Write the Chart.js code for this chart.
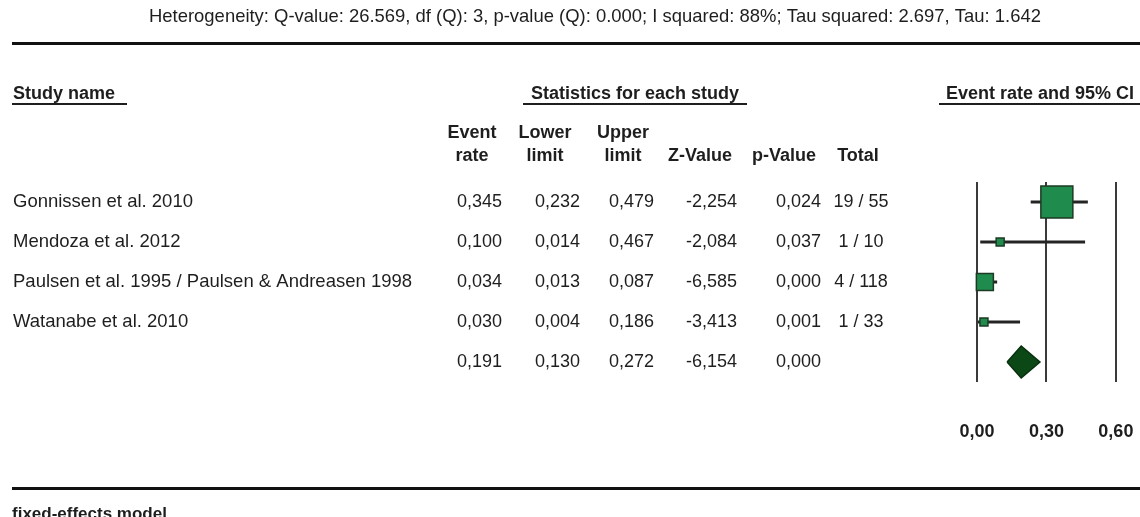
<!DOCTYPE html>
<html>
<head>
<meta charset="utf-8">
<title>Forest plot – event rate</title>
<script src="https://cdn.jsdelivr.net/npm/chart.js@4.4.1/dist/chart.umd.min.js"></script>
<style>
  html, body { margin: 0; padding: 0; background: #ffffff; }
  #wrap { width: 1140px; height: 517px; position: relative; overflow: hidden; }
  canvas { display: block; }
</style>
</head>
<body>
<div id="wrap"><canvas id="forest" width="1140" height="517"></canvas></div>
<script>
// ---- study data ----
const studies = [
  'Gonnissen et al. 2010',
  'Mendoza et al. 2012',
  'Paulsen et al. 1995 / Paulsen & Andreasen 1998',
  'Watanabe et al. 2010'
];
const eventRate  = [0.345, 0.100, 0.034, 0.030];
const lowerLimit = [0.232, 0.014, 0.013, 0.004];
const upperLimit = [0.479, 0.467, 0.087, 0.186];
const zValue     = [-2.254, -2.084, -6.585, -3.413];
const pValue     = [0.024, 0.037, 0.000, 0.001];
const events     = [19, 1, 4, 1];
const totals     = [55, 10, 118, 33];

// pooled estimate: event rate, lower limit, upper limit, Z, p
const pooledRate  = 0.191;
const pooledLower = 0.130;
const pooledUpper = 0.272;
const pooledZ     = -6.154;
const pooledP     = 0.000;

const axisTicks = [0.00, 0.30, 0.60];
const heterogeneity = 'Heterogeneity: Q-value: 26.569, df (Q): 3, p-value (Q): 0.000; I squared: 88%; Tau squared: 2.697, Tau: 1.642';

// ---- styling ----
const FONT = '"Liberation Sans", Arial, Helvetica, sans-serif';
const NARROW = '"Liberation Sans Narrow", "Liberation Sans", Arial, sans-serif';
const TEXT = '#1e1e1e';
const BOX_FILL = '#1f8b4c';
const BOX_EDGE = '#1d3b24';
const DIAMOND_FILL = '#0c4716';
const WHISKER = '#242424';
const boxSide = [32, 8, 17, 8];      // marker side in px (study weight)
const DIAMOND_HALF = 0.4;            // half-height of the pooled diamond, in row units

const fmt = (v, d) => v.toFixed(d).replace('.', ',');
const pooledRow = studies.length;

// ---- datasets (lower "order" is painted on top) ----
const datasets = [];
studies.forEach((s, i) => {
  datasets.push({
    label: s + ' CI',
    data: [{ x: lowerLimit[i], y: i }, { x: upperLimit[i], y: i }],
    showLine: true,
    borderColor: WHISKER,
    borderWidth: 3,
    pointRadius: 0,
    order: 2,
    clip: false
  });
});
datasets.push({
  label: 'Event rate',
  data: eventRate.map((r, i) => ({ x: r, y: i })),
  pointStyle: 'rect',
  pointRadius: boxSide.map(s => s / Math.SQRT2),
  backgroundColor: BOX_FILL,
  borderColor: BOX_EDGE,
  borderWidth: 1.5,
  showLine: false,
  order: 1,
  clip: false
});
datasets.push({
  label: 'Pooled',
  data: [
    { x: pooledLower, y: pooledRow },
    { x: pooledRate,  y: pooledRow - DIAMOND_HALF },
    { x: pooledUpper, y: pooledRow },
    { x: pooledRate,  y: pooledRow + DIAMOND_HALF },
    { x: pooledLower, y: pooledRow }
  ],
  showLine: true,
  fill: 'shape',
  backgroundColor: DIAMOND_FILL,
  borderColor: '#08300f',
  borderWidth: 1.5,
  tension: 0,
  pointRadius: 0,
  order: 1,
  clip: false
});

// ---- table text drawn beside the plot ----
const tablePlugin = {
  id: 'forestTable',
  afterDraw(chart) {
    const ctx = chart.ctx;
    const yScale = chart.scales.y;
    ctx.save();
    ctx.fillStyle = TEXT;

    // heterogeneity line
    ctx.font = '19px ' + NARROW;
    ctx.textBaseline = 'middle';
    ctx.textAlign = 'left';
    const w = ctx.measureText(heterogeneity).width;
    ctx.save();
    ctx.translate(149, 17);
    ctx.scale(892 / w, 1);
    ctx.fillText(heterogeneity, 0, 0);
    ctx.restore();

    // rules
    ctx.fillStyle = '#111';
    ctx.fillRect(12, 42, 1128, 3);
    ctx.fillRect(12, 487, 1128, 3);
    ctx.fillStyle = TEXT;

    // group headings
    ctx.font = 'bold 18px ' + FONT;
    ctx.textBaseline = 'alphabetic';
    ctx.textAlign = 'left';
    ctx.fillText('Study name', 13, 99);
    ctx.fillRect(12, 103, 115, 2);
    ctx.textAlign = 'center';
    ctx.fillText('Statistics for each study', 635, 99);
    ctx.fillRect(523, 103, 224, 2);
    ctx.textAlign = 'left';
    ctx.fillText('Event rate and 95% CI', 946, 99);
    ctx.fillRect(939, 103, 201, 2);

    // column headings
    ctx.textAlign = 'center';
    ctx.textBaseline = 'middle';
    const heads = [
      [472, 'Event', 'rate'],
      [545, 'Lower', 'limit'],
      [623, 'Upper', 'limit'],
      [700, '', 'Z-Value'],
      [784, '', 'p-Value'],
      [858, '', 'Total']
    ];
    heads.forEach(([x, a, b]) => {
      if (a) ctx.fillText(a, x, 133);
      ctx.fillText(b, x, 156);
    });

    // rows
    const rightCols = [502, 580, 654, 737, 821];
    const drawRow = (y, vals) => {
      ctx.font = '18px ' + FONT;
      ctx.textAlign = 'right';
      vals.forEach((v, k) => ctx.fillText(v, rightCols[k], y));
    };
    studies.forEach((s, i) => {
      const y = yScale.getPixelForValue(i);
      ctx.font = '18.5px ' + FONT;
      ctx.textAlign = 'left';
      ctx.fillText(s, 13, y);
      drawRow(y, [fmt(eventRate[i], 3), fmt(lowerLimit[i], 3), fmt(upperLimit[i], 3), fmt(zValue[i], 3), fmt(pValue[i], 3)]);
      ctx.textAlign = 'center';
      ctx.fillText(events[i] + ' / ' + totals[i], 861, y);
    });
    const yp = yScale.getPixelForValue(pooledRow);
    drawRow(yp, [fmt(pooledRate, 3), fmt(pooledLower, 3), fmt(pooledUpper, 3), fmt(pooledZ, 3), fmt(pooledP, 3)]);

    // model caption
    ctx.font = 'bold 17px ' + FONT;
    ctx.textAlign = 'left';
    ctx.textBaseline = 'alphabetic';
    ctx.fillText('fixed-effects model', 12, 519);

    ctx.restore();
  }
};

new Chart(document.getElementById('forest'), {
  type: 'scatter',
  data: { datasets },
  options: {
    responsive: false,
    animation: false,
    devicePixelRatio: 1,
    layout: { padding: { left: 977, right: 24, top: 182, bottom: 0 } },
    plugins: { legend: { display: false }, tooltip: { enabled: false } },
    scales: {
      x: {
        type: 'linear',
        min: axisTicks[0],
        max: axisTicks[axisTicks.length - 1],
        afterBuildTicks: s => { s.ticks = axisTicks.map(v => ({ value: v })); },
        afterFit: s => { s.height = 135; },
        ticks: {
          padding: 2,
          color: TEXT,
          font: { family: FONT, size: 18, weight: 'bold' },
          callback: v => fmt(v, 2)
        },
        grid: {
          color: '#3a3a3a',
          lineWidth: 2,
          drawTicks: true,
          tickLength: 37,
          tickColor: 'rgba(0,0,0,0)'
        },
        border: { display: false }
      },
      y: {
        type: 'linear',
        min: -0.5,
        max: studies.length + 0.5,
        reverse: true,
        display: false
      }
    }
  },
  plugins: [tablePlugin]
});
</script>
</body>
</html>
